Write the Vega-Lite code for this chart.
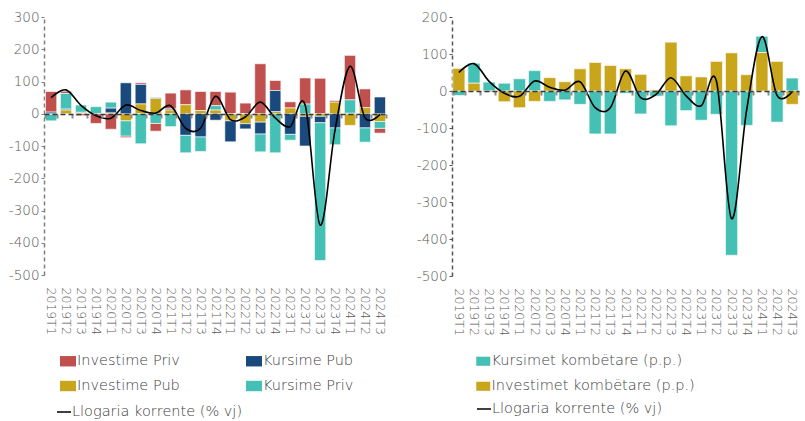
{
  "$schema": "https://vega.github.io/schema/vega-lite/v6.json",
  "padding": {"left": 8, "top": 10, "right": 4, "bottom": 2},
  "config": {
    "font": "DejaVu Sans",
    "view": {"stroke": null},
    "axis": {"labelColor": "#595959", "titleColor": "#595959", "labelFont": "DejaVu Sans", "labelFontWeight": 300, "labelOverlap": false},
    "legend": {"labelColor": "#404040", "labelFont": "DejaVu Sans", "labelFontWeight": 300, "labelLimit": 400}
  },
  "datasets": {
    "left": [
      {"q":"2019T1","s":"Investime Priv","v":64},{"q":"2019T1","s":"Investime Pub","v":-2},{"q":"2019T1","s":"Kursime Pub","v":5},{"q":"2019T1","s":"Kursime Priv","v":-20},
      {"q":"2019T2","s":"Investime Priv","v":7},{"q":"2019T2","s":"Investime Pub","v":12},{"q":"2019T2","s":"Kursime Pub","v":3},{"q":"2019T2","s":"Kursime Priv","v":48},
      {"q":"2019T3","s":"Investime Priv","v":-6},{"q":"2019T3","s":"Investime Pub","v":3},{"q":"2019T3","s":"Kursime Pub","v":2},{"q":"2019T3","s":"Kursime Priv","v":22},
      {"q":"2019T4","s":"Investime Priv","v":-30},{"q":"2019T4","s":"Investime Pub","v":1},{"q":"2019T4","s":"Kursime Pub","v":0},{"q":"2019T4","s":"Kursime Priv","v":21},
      {"q":"2020T1","s":"Investime Priv","v":-48},{"q":"2020T1","s":"Investime Pub","v":3},{"q":"2020T1","s":"Kursime Pub","v":15},{"q":"2020T1","s":"Kursime Priv","v":18},
      {"q":"2020T2","s":"Investime Priv","v":-5},{"q":"2020T2","s":"Investime Pub","v":-22},{"q":"2020T2","s":"Kursime Pub","v":96},{"q":"2020T2","s":"Kursime Priv","v":-47},
      {"q":"2020T3","s":"Investime Priv","v":5},{"q":"2020T3","s":"Investime Pub","v":31},{"q":"2020T3","s":"Kursime Pub","v":60},{"q":"2020T3","s":"Kursime Priv","v":-93},
      {"q":"2020T4","s":"Investime Priv","v":-24},{"q":"2020T4","s":"Investime Pub","v":48},{"q":"2020T4","s":"Kursime Pub","v":2},{"q":"2020T4","s":"Kursime Priv","v":-30},
      {"q":"2021T1","s":"Investime Priv","v":49},{"q":"2021T1","s":"Investime Pub","v":12},{"q":"2021T1","s":"Kursime Pub","v":3},{"q":"2021T1","s":"Kursime Priv","v":-40},
      {"q":"2021T2","s":"Investime Priv","v":46},{"q":"2021T2","s":"Investime Pub","v":28},{"q":"2021T2","s":"Kursime Pub","v":-67},{"q":"2021T2","s":"Kursime Priv","v":-54},
      {"q":"2021T3","s":"Investime Priv","v":59},{"q":"2021T3","s":"Investime Pub","v":10},{"q":"2021T3","s":"Kursime Pub","v":-72},{"q":"2021T3","s":"Kursime Priv","v":-45},
      {"q":"2021T4","s":"Investime Priv","v":44},{"q":"2021T4","s":"Investime Pub","v":12},{"q":"2021T4","s":"Kursime Pub","v":-20},{"q":"2021T4","s":"Kursime Priv","v":13},
      {"q":"2022T1","s":"Investime Priv","v":67},{"q":"2022T1","s":"Investime Pub","v":-22},{"q":"2022T1","s":"Kursime Pub","v":-65},{"q":"2022T1","s":"Kursime Priv","v":0},
      {"q":"2022T2","s":"Investime Priv","v":33},{"q":"2022T2","s":"Investime Pub","v":-31},{"q":"2022T2","s":"Kursime Pub","v":-16},{"q":"2022T2","s":"Kursime Priv","v":0},
      {"q":"2022T3","s":"Investime Priv","v":155},{"q":"2022T3","s":"Investime Pub","v":-26},{"q":"2022T3","s":"Kursime Pub","v":-37},{"q":"2022T3","s":"Kursime Priv","v":-55},
      {"q":"2022T4","s":"Investime Priv","v":31},{"q":"2022T4","s":"Investime Pub","v":7},{"q":"2022T4","s":"Kursime Pub","v":65},{"q":"2022T4","s":"Kursime Priv","v":-121},
      {"q":"2023T1","s":"Investime Priv","v":19},{"q":"2023T1","s":"Investime Pub","v":18},{"q":"2023T1","s":"Kursime Pub","v":-64},{"q":"2023T1","s":"Kursime Priv","v":-18},
      {"q":"2023T2","s":"Investime Priv","v":81},{"q":"2023T2","s":"Investime Pub","v":-8},{"q":"2023T2","s":"Kursime Pub","v":-92},{"q":"2023T2","s":"Kursime Priv","v":30},
      {"q":"2023T3","s":"Investime Priv","v":110},{"q":"2023T3","s":"Investime Pub","v":-8},{"q":"2023T3","s":"Kursime Pub","v":-20},{"q":"2023T3","s":"Kursime Priv","v":-427},
      {"q":"2023T4","s":"Investime Priv","v":5},{"q":"2023T4","s":"Investime Pub","v":36},{"q":"2023T4","s":"Kursime Pub","v":-44},{"q":"2023T4","s":"Kursime Priv","v":-52},
      {"q":"2024T1","s":"Investime Priv","v":138},{"q":"2024T1","s":"Investime Pub","v":-36},{"q":"2024T1","s":"Kursime Pub","v":2},{"q":"2024T1","s":"Kursime Priv","v":41},
      {"q":"2024T2","s":"Investime Priv","v":58},{"q":"2024T2","s":"Investime Pub","v":19},{"q":"2024T2","s":"Kursime Pub","v":-44},{"q":"2024T2","s":"Kursime Priv","v":-44},
      {"q":"2024T3","s":"Investime Priv","v":-15},{"q":"2024T3","s":"Investime Pub","v":-24},{"q":"2024T3","s":"Kursime Pub","v":52},{"q":"2024T3","s":"Kursime Priv","v":-21}
    ],
    "right": [
      {"q":"2019T1","s":"Kursimet kombëtare (p.p.)","v":-12},{"q":"2019T1","s":"Investimet kombëtare (p.p.)","v":61},
      {"q":"2019T2","s":"Kursimet kombëtare (p.p.)","v":54},{"q":"2019T2","s":"Investimet kombëtare (p.p.)","v":21},
      {"q":"2019T3","s":"Kursimet kombëtare (p.p.)","v":24},{"q":"2019T3","s":"Investimet kombëtare (p.p.)","v":-3},
      {"q":"2019T4","s":"Kursimet kombëtare (p.p.)","v":21},{"q":"2019T4","s":"Investimet kombëtare (p.p.)","v":-29},
      {"q":"2020T1","s":"Kursimet kombëtare (p.p.)","v":33},{"q":"2020T1","s":"Investimet kombëtare (p.p.)","v":-45},
      {"q":"2020T2","s":"Kursimet kombëtare (p.p.)","v":55},{"q":"2020T2","s":"Investimet kombëtare (p.p.)","v":-28},
      {"q":"2020T3","s":"Kursimet kombëtare (p.p.)","v":-28},{"q":"2020T3","s":"Investimet kombëtare (p.p.)","v":36},
      {"q":"2020T4","s":"Kursimet kombëtare (p.p.)","v":-24},{"q":"2020T4","s":"Investimet kombëtare (p.p.)","v":25},
      {"q":"2021T1","s":"Kursimet kombëtare (p.p.)","v":-36},{"q":"2021T1","s":"Investimet kombëtare (p.p.)","v":60},
      {"q":"2021T2","s":"Kursimet kombëtare (p.p.)","v":-116},{"q":"2021T2","s":"Investimet kombëtare (p.p.)","v":77},
      {"q":"2021T3","s":"Kursimet kombëtare (p.p.)","v":-116},{"q":"2021T3","s":"Investimet kombëtare (p.p.)","v":69},
      {"q":"2021T4","s":"Kursimet kombëtare (p.p.)","v":-6},{"q":"2021T4","s":"Investimet kombëtare (p.p.)","v":60},
      {"q":"2022T1","s":"Kursimet kombëtare (p.p.)","v":-62},{"q":"2022T1","s":"Investimet kombëtare (p.p.)","v":45},
      {"q":"2022T2","s":"Kursimet kombëtare (p.p.)","v":-14},{"q":"2022T2","s":"Investimet kombëtare (p.p.)","v":3},
      {"q":"2022T3","s":"Kursimet kombëtare (p.p.)","v":-94},{"q":"2022T3","s":"Investimet kombëtare (p.p.)","v":132},
      {"q":"2022T4","s":"Kursimet kombëtare (p.p.)","v":-53},{"q":"2022T4","s":"Investimet kombëtare (p.p.)","v":41},
      {"q":"2023T1","s":"Kursimet kombëtare (p.p.)","v":-79},{"q":"2023T1","s":"Investimet kombëtare (p.p.)","v":38},
      {"q":"2023T2","s":"Kursimet kombëtare (p.p.)","v":-63},{"q":"2023T2","s":"Investimet kombëtare (p.p.)","v":80},
      {"q":"2023T3","s":"Kursimet kombëtare (p.p.)","v":-444},{"q":"2023T3","s":"Investimet kombëtare (p.p.)","v":103},
      {"q":"2023T4","s":"Kursimet kombëtare (p.p.)","v":-93},{"q":"2023T4","s":"Investimet kombëtare (p.p.)","v":44},
      {"q":"2024T1","s":"Kursimet kombëtare (p.p.)","v":44},{"q":"2024T1","s":"Investimet kombëtare (p.p.)","v":104},
      {"q":"2024T2","s":"Kursimet kombëtare (p.p.)","v":-84},{"q":"2024T2","s":"Investimet kombëtare (p.p.)","v":80},
      {"q":"2024T3","s":"Kursimet kombëtare (p.p.)","v":35},{"q":"2024T3","s":"Investimet kombëtare (p.p.)","v":-36}
    ],
    "line": [
      {"q":"2019T1","v":50},{"q":"2019T2","v":74},{"q":"2019T3","v":26},{"q":"2019T4","v":-6},
      {"q":"2020T1","v":-14},{"q":"2020T2","v":27},{"q":"2020T3","v":10},{"q":"2020T4","v":2},
      {"q":"2021T1","v":25},{"q":"2021T2","v":-45},{"q":"2021T3","v":-45},{"q":"2021T4","v":54},
      {"q":"2022T1","v":-18},{"q":"2022T2","v":-10},{"q":"2022T3","v":36},{"q":"2022T4","v":-13},
      {"q":"2023T1","v":-40},{"q":"2023T2","v":27},{"q":"2023T3","v":-345},{"q":"2023T4","v":-50},
      {"q":"2024T1","v":147},{"q":"2024T2","v":-12},{"q":"2024T3","v":-2}
    ]
  },
  "spacing": 29,
  "resolve": {
    "scale": {"x": "independent", "y": "independent", "color": "independent", "stroke": "independent"},
    "legend": {"color": "independent", "stroke": "independent"}
  },
  "hconcat": [
    {
      "width": 343,
      "height": 258,
      "resolve": {"axis": {"x": "independent"}},
      "layer": [
        {
          "data": {"name": "left"},
          "transform": [{"calculate": "indexof(['Investime Pub','Kursime Pub','Kursime Priv','Investime Priv'], datum.s)", "as": "k"}],
          "mark": {"type": "bar", "stroke": "#ffffff", "strokeOpacity": 0.6, "strokeWidth": 1},
          "encoding": {
            "x": {"field": "q", "type": "ordinal", "sort": null, "scale": {"paddingInner": 0.25, "paddingOuter": 0.1},
              "axis": {"orient": "bottom", "title": null, "labelAngle": 90, "domain": false, "ticks": false, "labelPadding": 12, "labelFontSize": 12.5, "labelColor": "#595959", "labelOverlap": false}},
            "y": {"field": "v", "type": "quantitative", "stack": "zero", "scale": {"domain": [-500, 300], "nice": false},
              "axis": {"title": null, "grid": false, "values": [-500,-400,-300,-200,-100,0,100,200,300], "labelExpr": "'' + datum.value", "labelOverlap": false, "labelFlush": false,
                "domainDash": [4, 3], "domainColor": "#7f7f7f", "domainWidth": 1.5, "tickColor": "#7f7f7f", "tickSize": 3, "labelFontSize": 13.5, "labelPadding": 2}},
            "color": {"field": "s", "type": "nominal",
              "scale": {"domain": ["Investime Priv", "Kursime Pub", "Investime Pub", "Kursime Priv"], "range": ["#C0504D", "#1A4A7D", "#C8A51A", "#45C0B4"]},
              "legend": {"orient": "none", "legendX": 16, "legendY": 336, "columns": 2, "direction": "horizontal", "columnPadding": 66, "rowPadding": 10, "title": null,
                "symbolType": "M-1,-0.65L1,-0.65L1,0.65L-1,0.65Z", "symbolSize": 256, "symbolStrokeWidth": 0, "labelFontSize": 14.5, "labelOffset": 1}},
            "order": {"field": "k", "type": "quantitative"}
          }
        },
        {
          "data": {"name": "line"},
          "mark": {"type": "line", "interpolate": "cardinal", "strokeWidth": 1.6},
          "encoding": {
            "x": {"field": "q", "type": "ordinal", "sort": null,
              "axis": {"orient": "bottom", "offset": -161, "title": null, "labels": false, "domain": true, "domainDash": [5, 3], "domainColor": "#3a3a3a", "domainWidth": 1.5,
                "ticks": true, "tickBand": "extent", "tickColor": "#8a8a8a", "tickSize": 4, "tickWidth": 2, "zindex": 1}},
            "y": {"field": "v", "type": "quantitative",
              "axis": {"title": null, "grid": false, "values": [-500,-400,-300,-200,-100,0,100,200,300], "labelExpr": "'' + datum.value", "labelOverlap": false, "labelFlush": false,
                "domainDash": [4, 3], "domainColor": "#7f7f7f", "domainWidth": 1.5, "tickColor": "#7f7f7f", "tickSize": 3, "labelFontSize": 13.5, "labelPadding": 2}},
            "stroke": {"datum": "Llogaria korrente (% vj)", "type": "nominal", "scale": {"range": ["#000000"]},
              "legend": {"orient": "none", "legendX": 12, "legendY": 387, "title": null, "symbolType": "stroke", "symbolSize": 196, "symbolStrokeWidth": 1.5, "labelFontSize": 14.5, "labelOffset": 0}}
          }
        }
      ]
    },
    {
      "width": 347,
      "height": 259,
      "resolve": {"axis": {"x": "independent"}},
      "layer": [
        {
          "data": {"name": "right"},
          "transform": [{"calculate": "indexof(['Investimet kombëtare (p.p.)','Kursimet kombëtare (p.p.)'], datum.s)", "as": "k"}],
          "mark": {"type": "bar", "stroke": "#ffffff", "strokeOpacity": 0.6, "strokeWidth": 1},
          "encoding": {
            "x": {"field": "q", "type": "ordinal", "sort": null, "scale": {"paddingInner": 0.2, "paddingOuter": 0.05},
              "axis": {"orient": "bottom", "title": null, "labelAngle": 90, "domain": false, "ticks": false, "labelPadding": 12, "labelFontSize": 12.5, "labelColor": "#595959", "labelOverlap": false}},
            "y": {"field": "v", "type": "quantitative", "stack": "zero", "scale": {"domain": [-500, 200], "nice": false},
              "axis": {"title": null, "grid": false, "values": [-500,-400,-300,-200,-100,0,100,200], "labelExpr": "'' + datum.value", "labelOverlap": false, "labelFlush": false,
                "domainDash": [4, 3], "domainColor": "#555555", "domainWidth": 1.5, "tickColor": "#555555", "tickSize": 3, "labelFontSize": 13.5, "labelPadding": 2}},
            "color": {"field": "s", "type": "nominal",
              "scale": {"domain": ["Kursimet kombëtare (p.p.)", "Investimet kombëtare (p.p.)"], "range": ["#45C0B4", "#C8A51A"]},
              "legend": {"orient": "none", "legendX": 24, "legendY": 337, "rowPadding": 10, "title": null,
                "symbolType": "M-1,-0.65L1,-0.65L1,0.65L-1,0.65Z", "symbolSize": 196, "symbolStrokeWidth": 0, "labelFontSize": 14.5, "labelOffset": 1}},
            "order": {"field": "k", "type": "quantitative"}
          }
        },
        {
          "data": {"name": "line"},
          "mark": {"type": "line", "interpolate": "cardinal", "strokeWidth": 1.6},
          "encoding": {
            "x": {"field": "q", "type": "ordinal", "sort": null,
              "axis": {"orient": "bottom", "offset": -185, "title": null, "labels": false, "domain": true, "domainDash": [5, 3], "domainColor": "#3a3a3a", "domainWidth": 1.5,
                "ticks": true, "tickBand": "extent", "tickColor": "#8a8a8a", "tickSize": 4, "tickWidth": 2, "zindex": 1}},
            "y": {"field": "v", "type": "quantitative",
              "axis": {"title": null, "grid": false, "values": [-500,-400,-300,-200,-100,0,100,200], "labelExpr": "'' + datum.value", "labelOverlap": false, "labelFlush": false,
                "domainDash": [4, 3], "domainColor": "#555555", "domainWidth": 1.5, "tickColor": "#555555", "tickSize": 3, "labelFontSize": 13.5, "labelPadding": 2}},
            "stroke": {"datum": "Llogaria korrente (% vj)", "type": "nominal", "scale": {"range": ["#000000"]},
              "legend": {"orient": "none", "legendX": 24, "legendY": 384, "title": null, "symbolType": "stroke", "symbolSize": 196, "symbolStrokeWidth": 1.5, "labelFontSize": 14.5, "labelOffset": 0}}
          }
        }
      ]
    }
  ]
}
